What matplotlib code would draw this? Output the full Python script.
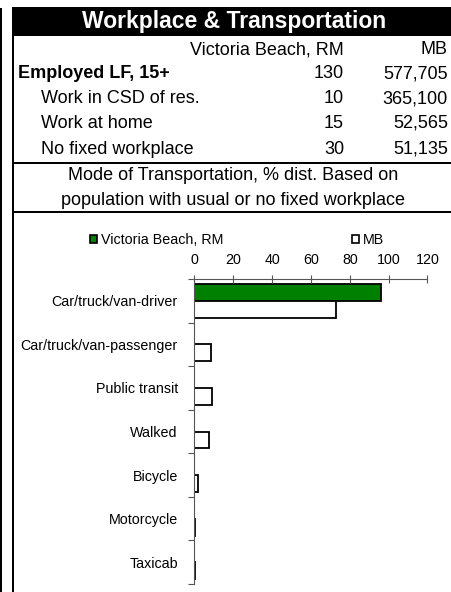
import matplotlib
matplotlib.use("Agg")
import matplotlib.pyplot as plt
from matplotlib.patches import Rectangle, Patch
import numpy as np

plt.rcParams['font.family'] = ['Liberation Sans', 'DejaVu Sans']

# table data
col_heads = ["Victoria Beach, RM", "MB"]
row_labels = ["Employed LF, 15+", "Work in CSD of res.", "Work at home", "No fixed workplace"]
vb_counts = ["130", "10", "15", "30"]
mb_counts = ["577,705", "365,100", "52,565", "51,135"]

# chart data (% distribution)
modes = ["Car/truck/van-driver", "Car/truck/van-passenger", "Public transit",
         "Walked", "Bicycle", "Motorcycle", "Taxicab"]
vb_pct = [96.0, 0, 0, 0, 0, 0, 0]
mb_pct = [72.7, 8.6, 9.0, 7.4, 1.8, 0.3, 0.4]

W, H = 452, 592
fig = plt.figure(figsize=(W / 100, H / 100), dpi=100)

# overlay in pixel coords for the table part
bg = fig.add_axes([0, 0, 1, 1])
bg.set_xlim(0, W)
bg.set_ylim(H, 0)
bg.axis('off')

# frame pieces
bg.add_patch(Rectangle((12, 7), W - 12, 29, color='black', lw=0))
bg.add_patch(Rectangle((12, 7), 2.5, H - 7, color='black', lw=0))
bg.add_patch(Rectangle((0, 8), 2, H - 8, color='black', lw=0))
bg.add_patch(Rectangle((12, 162), W - 12, 2.2, color='black', lw=0))
bg.add_patch(Rectangle((12, 210.5), W - 12, 2.2, color='black', lw=0))

bg.text(234, 21.5, "Workplace & Transportation", color='white', fontsize=16.5,
        fontweight='bold', ha='center', va='center')

fs = 13
bg.text(344, 50, col_heads[0], fontsize=fs, ha='right', va='center')
bg.text(448, 50, col_heads[1], fontsize=fs, ha='right', va='center')
row_y = [74, 98.5, 123.5, 149]
for i, (lab, a, b) in enumerate(zip(row_labels, vb_counts, mb_counts)):
    if i == 0:
        bg.text(18, row_y[i], lab, fontsize=fs, fontweight='bold', ha='left', va='center')
    else:
        bg.text(41, row_y[i], lab, fontsize=fs, ha='left', va='center')
    bg.text(344, row_y[i], a, fontsize=fs, ha='right', va='center')
    bg.text(448, row_y[i], b, fontsize=fs, ha='right', va='center')

bg.text(233, 176, "Mode of Transportation, % dist. Based on", fontsize=fs,
        ha='center', va='center')
bg.text(233, 200.5, "population with usual or no fixed workplace", fontsize=fs,
        ha='center', va='center')

# bar chart
x0, x1, y0, y1 = 194.5, 427.5, 279, 584
ax = fig.add_axes([x0 / W, 1 - y1 / H, (x1 - x0) / W, (y1 - y0) / H])
y = np.arange(len(modes))
bh = 0.39
ax.barh(y - bh / 2, vb_pct, height=bh, color='#008000', edgecolor='black', lw=1.3,
        label=col_heads[0])
ax.barh(y + bh / 2, mb_pct, height=bh, color='white', edgecolor='black', lw=1.3,
        label=col_heads[1])

ax.set_xlim(0, 120)
ax.set_ylim(len(modes) - 0.5, -0.5)
ax.set_xticks(np.arange(0, 121, 20))
ax.xaxis.tick_top()
ax.set_yticks(y)
ax.set_yticklabels(modes)
ax.set_yticks(np.arange(-0.5, len(modes)), minor=True)
for s in ['right', 'bottom']:
    ax.spines[s].set_visible(False)
for s in ['top', 'left']:
    ax.spines[s].set_color('#555555')
    ax.spines[s].set_linewidth(0.8)
ax.tick_params(axis='x', direction='inout', length=6, width=0.8, color='#555555',
               labelsize=10.3, pad=6)
ax.tick_params(axis='y', which='major', length=0, labelsize=10.3, pad=12)
ax.tick_params(axis='y', which='minor', direction='out', length=4, width=0.8,
               color='#555555')

handles = [Patch(facecolor='#008000', edgecolor='black', lw=1.2),
           Patch(facecolor='white', edgecolor='black', lw=1.2)]
fig.legend(handles, col_heads, loc='center left', bbox_to_anchor=(90 / W, 1 - 240 / H),
           ncol=2, frameon=False, fontsize=10.3, handlelength=0.5, handleheight=0.5,
           handletextpad=0.25, columnspacing=9.0, borderaxespad=0, borderpad=0)

fig.savefig("out.png", dpi=100)
